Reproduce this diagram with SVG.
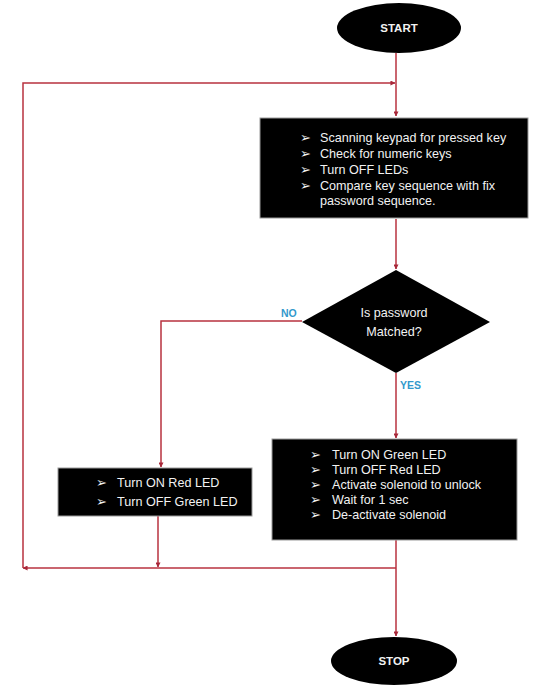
<svg xmlns="http://www.w3.org/2000/svg" width="537" height="688" viewBox="0 0 537 688">
<defs>
<marker id="ah" viewBox="0 0 6 6" refX="5.5" refY="3" markerWidth="5" markerHeight="5" orient="auto" markerUnits="userSpaceOnUse">
<path d="M0,0 L6,3 L0,6 z" fill="#A8283A"/>
</marker>
<style>
.term{fill:#000}
.box{fill:#000;stroke:#9a9a9a;stroke-width:1}
.t{font-family:"Liberation Sans",Arial,sans-serif;font-size:12.6px;fill:#f2f2f2}
.tb{font-family:"Liberation Sans",Arial,sans-serif;font-size:11.5px;font-weight:bold;fill:#f2f2f2}
.lbl{font-family:"Liberation Sans",Arial,sans-serif;font-size:10.5px;font-weight:bold;fill:#3399cc}
.c{fill:none;stroke:#B8323F;stroke-width:1.5}
</style>
</defs>
<rect width="537" height="688" fill="#fff"/>
<g id="connectors">
<path class="c" d="M396,53 V116" marker-end="url(#ah)"/>
<path class="c" d="M396,219 V269" marker-end="url(#ah)"/>
<path class="c" d="M302,321 H161 V467" marker-end="url(#ah)"/>
<path class="c" d="M396,373 V438" marker-end="url(#ah)"/>
<path class="c" d="M158,516 V567" marker-end="url(#ah)"/>
<path class="c" d="M396,540 V636" marker-end="url(#ah)"/>
<path class="c" d="M396,568 H23" marker-end="url(#ah)"/>
<path class="c" d="M23,568 V83 H395" marker-end="url(#ah)"/>
<text class="lbl" x="281" y="317">NO</text>
<text class="lbl" x="400" y="389">YES</text>
</g>
<g id="start">
<ellipse class="term" cx="399" cy="28" rx="62" ry="25"/>
<text class="tb" x="399" y="32" text-anchor="middle">START</text>
</g>
<g id="scan">
<rect class="box" x="260" y="118" width="268" height="100"/>
<text class="t" x="300" y="142">➢</text><text class="t" x="320" y="142">Scanning keypad for pressed key</text>
<text class="t" x="300" y="158">➢</text><text class="t" x="320" y="158">Check for numeric keys</text>
<text class="t" x="300" y="174">➢</text><text class="t" x="320" y="174">Turn OFF LEDs</text>
<text class="t" x="300" y="190">➢</text><text class="t" x="320" y="190">Compare key sequence with fix</text>
<text class="t" x="320" y="205">password sequence.</text>
</g>
<g id="decision">
<polygon class="term" points="396,270 490,322 396,373 302,322"/>
<text class="t" x="394" y="317" text-anchor="middle">Is password</text>
<text class="t" x="394" y="336" text-anchor="middle">Matched?</text>
</g>
<g id="red">
<rect class="box" x="58" y="468" width="194" height="48"/>
<text class="t" x="96" y="487">➢</text><text class="t" x="117" y="487">Turn ON Red LED</text>
<text class="t" x="96" y="506">➢</text><text class="t" x="117" y="506">Turn OFF Green LED</text>
</g>
<g id="green">
<rect class="box" x="272" y="439" width="245" height="101"/>
<text class="t" x="310" y="459">➢</text><text class="t" x="332" y="459">Turn ON Green LED</text>
<text class="t" x="310" y="474">➢</text><text class="t" x="332" y="474">Turn OFF Red LED</text>
<text class="t" x="310" y="489">➢</text><text class="t" x="332" y="489">Activate solenoid to unlock</text>
<text class="t" x="310" y="504">➢</text><text class="t" x="332" y="504">Wait for 1 sec</text>
<text class="t" x="310" y="519">➢</text><text class="t" x="332" y="519">De-activate solenoid</text>
</g>
<g id="stop">
<ellipse class="term" cx="394" cy="661" rx="63" ry="24"/>
<text class="tb" x="394" y="665" text-anchor="middle">STOP</text>
</g>
</svg>
